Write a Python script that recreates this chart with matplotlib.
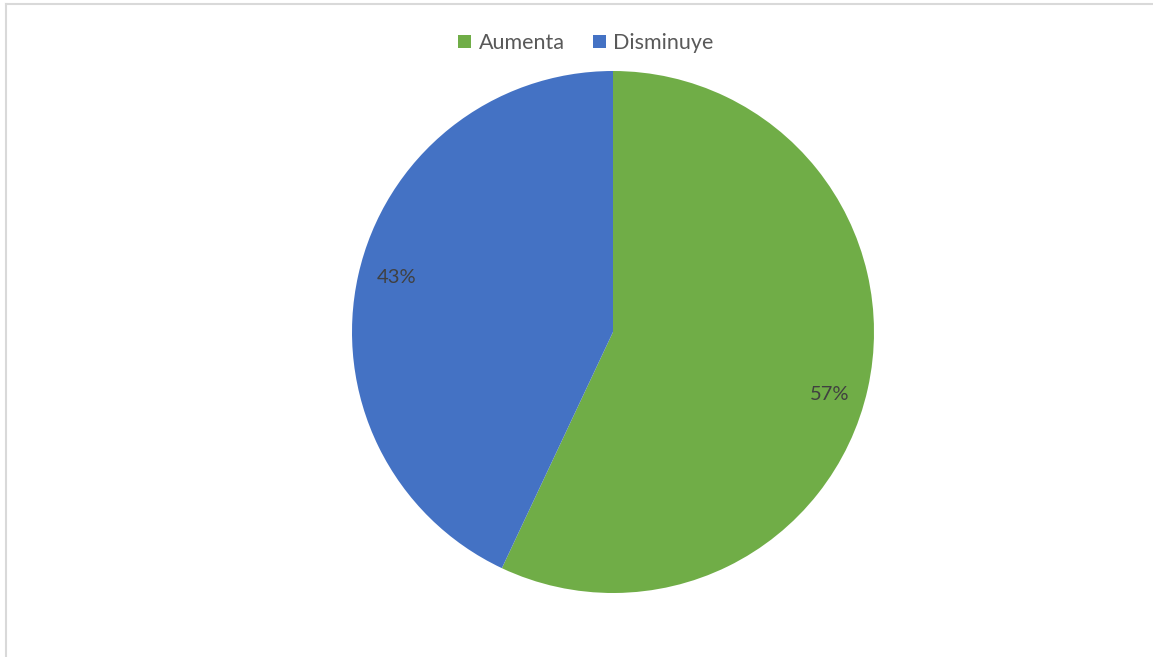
import matplotlib
matplotlib.use("Agg")
import matplotlib.pyplot as plt
import numpy as np
from matplotlib.lines import Line2D
from matplotlib.patches import Patch

# slice data (clockwise from 12 o'clock)
labels = ["Aumenta", "Disminuye"]
shares = [57, 43]
colors = ["#70AD47", "#4472C4"]

plt.rcParams["font.family"] = ["Lato", "DejaVu Sans"]

fig = plt.figure(figsize=(11.53, 6.57), dpi=100)
fig.patch.set_facecolor("white")

# pie axes: radius 1 -> 261 px, centred at (613, 325) px from bottom-left
W, H = 1153.0, 657.0
r_px = 261.0
ax = fig.add_axes([(613 - r_px) / W, (325 - r_px) / H, 2 * r_px / W, 2 * r_px / H])

wedges, texts, autotexts = ax.pie(
    shares, colors=colors, startangle=90, counterclock=False,
    autopct="%d%%", pctdistance=0.86,
    wedgeprops=dict(linewidth=0),
    textprops=dict(color="#404040", fontsize=14.5))

# nudge the percent labels a little clockwise, like the "best fit" placement
for w, t in zip(wedges, autotexts):
    ang = np.deg2rad((w.theta1 + w.theta2) / 2 - 2.5)
    t.set_position((0.86 * np.cos(ang), 0.86 * np.sin(ang) - 0.015))

ax.set_xlim(-1, 1)
ax.set_ylim(-1, 1)
ax.set_aspect("equal")
ax.axis("off")

handles = [Patch(facecolor=c, edgecolor="none") for c in colors]
fig.legend(handles, labels, loc="center", bbox_to_anchor=(586 / W, 1 - 43 / H),
           ncol=2, frameon=False, fontsize=15.5, labelcolor="#595959",
           handlelength=0.6, handleheight=0.6, handletextpad=0.35,
           columnspacing=1.3)

# thin frame lines along top and left edges
fig.add_artist(Line2D([5.5 / W, 5.5 / W], [0, 1 - 3.5 / H], transform=fig.transFigure,
                      color="#d9d9d9", linewidth=1.5))
fig.add_artist(Line2D([5.5 / W, 1], [1 - 3.5 / H, 1 - 3.5 / H], transform=fig.transFigure,
                      color="#d9d9d9", linewidth=1.5))

fig.savefig("out.png", dpi=100, facecolor="white")
